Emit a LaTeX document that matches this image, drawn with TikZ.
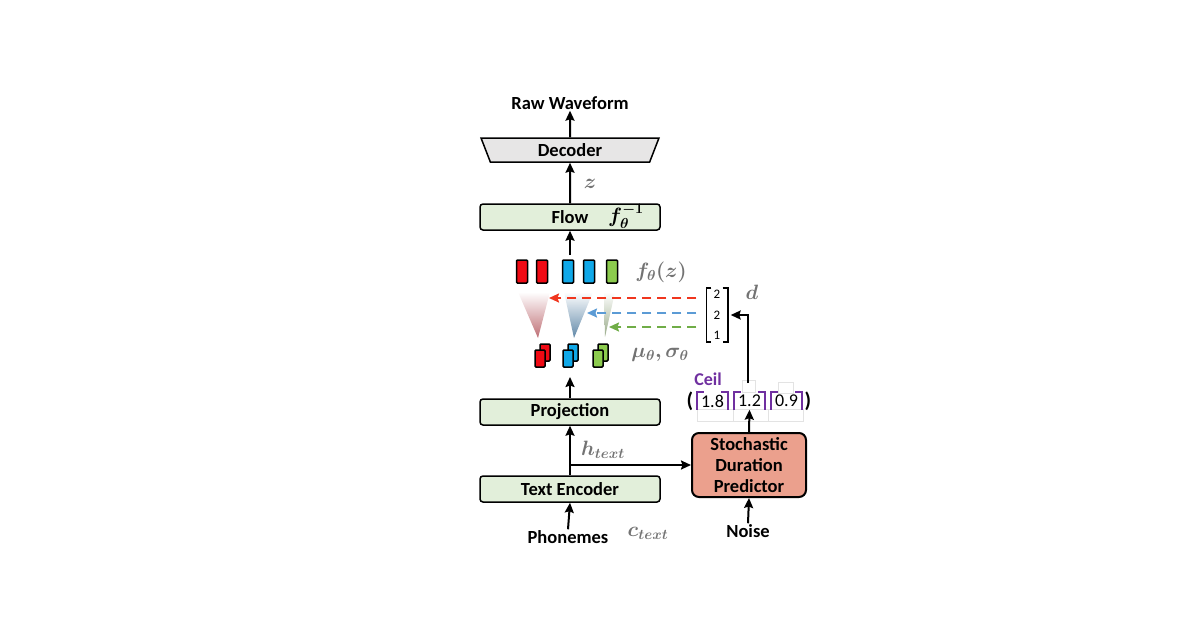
\documentclass[tikz,border=0pt]{standalone}
\usepackage[no-math]{fontspec}
\setmainfont{Carlito}
\usepackage{amsmath,bm}
\usetikzlibrary{arrows.meta,positioning,shapes.geometric,calc}
\definecolor{BoxGreen}{HTML}{E2EFDA}
\definecolor{DecGray}{HTML}{E7E6E6}
\definecolor{SdpRed}{HTML}{EBA08D}
\definecolor{TokRed}{HTML}{F00A14}
\definecolor{TokBlue}{HTML}{10A8E8}
\definecolor{TokGreen}{HTML}{8CCB4E}
\definecolor{LabGray}{HTML}{737373}
\definecolor{CeilPurple}{HTML}{7030A0}
\definecolor{DashRed}{HTML}{F0361E}
\definecolor{DashBlue}{HTML}{5B9BD5}
\definecolor{DashGreen}{HTML}{70AD47}
\definecolor{TriRed}{HTML}{BE6E74}
\definecolor{TriBlue}{HTML}{6088A8}
\definecolor{TriGreen}{HTML}{98AA88}
\begin{document}
\begin{tikzpicture}[x=1pt,y=-1pt,
  box/.style={draw,line width=1.5pt,rounded corners=3pt,fill=BoxGreen,minimum width=180pt,minimum height=26pt,inner sep=0pt,font=\bfseries\fontsize{18.5}{20}\selectfont},
  txt/.style={font=\bfseries\fontsize{18.5}{20}\selectfont,inner sep=1pt},
  arr/.style={line width=2pt,-{Stealth[length=10pt,width=9pt,inset=1.5pt]}},
  dsh/.style={line width=2pt,dash pattern=on 9pt off 6pt,-{Stealth[length=10pt,width=9pt,inset=1.5pt]}},
  lab/.style={text=LabGray,font=\fontsize{20}{24}\selectfont,inner sep=0pt},
  tok/.style={draw,line width=1.5pt,rounded corners=1pt,minimum width=11pt,minimum height=23pt,inner sep=0pt},
  tokp/.style={draw,line width=1.5pt,rounded corners=1pt,minimum width=10pt,minimum height=17pt,inner sep=0pt},
  num/.style={minimum width=31pt,minimum height=17pt,inner sep=0pt,font=\fontsize{18}{20}\selectfont},
  ceilbr/.style={CeilPurple,line width=2.2pt},
  faint/.style={draw=gray!22,line width=0.6pt}]
  \useasboundingbox (0,0) rectangle (1200,630);
  % main column
  \node[txt] (wave) at (570,103) {Raw Waveform};
  \node[trapezium,draw,fill=DecGray,line width=1.5pt,trapezium stretches=true,shape border rotate=180,
        trapezium angle=74,minimum width=178pt,minimum height=24pt,inner sep=0pt,
        font=\bfseries\fontsize{18.5}{20}\selectfont] (dec) at (570,150) {Decoder};
  \node[box] (flow) at (570,217) {Flow};
  \node[inner sep=0pt,font=\fontsize{20}{24}\selectfont] (finv) at (626,216) {$\bm{f_\theta^{-1}}$};
  \node[box] (proj) at (570,412) {Projection};
  \node[box] (enc) at (570,489) {Text Encoder};
  \node[txt] (phon) at (568,537) {Phonemes};
  \node[draw,line width=2pt,rounded corners=7pt,fill=SdpRed,minimum width=114pt,minimum height=64pt,
        align=center,inner sep=0pt,font=\bfseries\fontsize{18.5}{21}\selectfont] (sdp) at (749,465)
        {Stochastic\\Duration\\Predictor};
  \node[txt] (noise) at (748,531) {Noise};
  % latent tokens
  \foreach \x/\c [count=\i] in {522/TokRed,542/TokRed,568/TokBlue,589/TokBlue,612/TokGreen}
    \node[tok,fill=\c] (fz\i) at (\x,271.5) {};
  \foreach \x/\c [count=\i] in {540/TokRed,568/TokBlue,598/TokGreen} {
    \node[tokp,fill=\c] (mb\i) at (\x+5,352.5) {};
    \node[tokp,fill=\c] (mf\i) at (\x,358.5) {};
  }
  \shade[top color=white,bottom color=TriRed] (518,292) -- (550,292) -- (538,338) -- cycle;
  \shade[top color=white,bottom color=TriBlue] (564,292) -- (593,292) -- (574,338) -- cycle;
  \shade[top color=white,bottom color=TriGreen] (604,292) -- (615,292) -- (605,337) -- cycle;
  % labels
  \node[lab] (zlab) at (590,184) {$\bm{z}$};
  \node[lab] (fzlab) at (661,272) {$\bm{f_\theta(z)}$};
  \node[lab] (mulab) at (660,355) {$\bm{\mu_\theta,\sigma_\theta}$};
  \node[lab] (dlab) at (752,292) {$\bm{d}$};
  \node[lab] (hlab) at (603,450) {$\bm{h_{text}}$};
  \node[lab] (clab) at (648,533) {$\bm{c_{text}}$};
  % duration vector
  \node[align=center,inner sep=0pt,minimum width=21pt,minimum height=54pt,
        font=\fontsize{13}{20.5}\selectfont] (dvec) at (717,315) {2\\2\\1};
  \draw[line width=1.6pt] ([xshift=5pt]dvec.north west) -- (dvec.north west) -- (dvec.south west) -- ([xshift=5pt]dvec.south west);
  \draw[line width=1.6pt] ([xshift=-5pt]dvec.north east) -- (dvec.north east) -- (dvec.south east) -- ([xshift=-5pt]dvec.south east);
  % ceil
  \draw[faint] (697,409) rectangle (733,421) (733,409) rectangle (768,421) (768,409) rectangle (803,421);
  \draw[faint] (742,380) rectangle (755,392) (778,382) rectangle (793,393);
  \node[num] (n18) at (712.5,401) {1.8};
  \node[num] (n12) at (749.5,401) {1.2};
  \node[num] (n09) at (786.5,401) {0.9};
  \foreach \n in {n18,n12,n09} {
    \draw[ceilbr] (\n.south west) -- (\n.north west) -- ++(7,0);
    \draw[ceilbr] (\n.south east) -- (\n.north east) -- ++(-7,0);
  }
  \node[inner sep=0pt,font=\bfseries\fontsize{21}{22}\selectfont] (lpar) at (690,401) {(};
  \node[inner sep=0pt,font=\bfseries\fontsize{21}{22}\selectfont] (rpar) at (808,401) {)};
  \node[inner sep=0pt,text=CeilPurple,font=\bfseries\fontsize{18}{20}\selectfont] (ceil) at (708,379) {Ceil};
  % connectors
  \coordinate (zrow) at (570,255);
  \coordinate (murow) at (570,377);
  \coordinate (split) at (570,465);
  \coordinate (ceiltop) at (748,383);
  \coordinate (tipr) at (549,298);
  \coordinate (tipb) at (587,313);
  \coordinate (tipg) at (609,327);
  \draw[arr] (dec.north) -- (wave.south);
  \draw[arr] (flow.north) -- (dec.south);
  \draw[arr] (zrow) -- (flow.south);
  \draw[arr] (proj.north) -- (murow);
  \draw[arr] (enc.north) -- (proj.south);
  \draw[arr] (phon.north) -- (enc.south);
  \draw[arr] (split) -- (sdp.west);
  \draw[arr] (noise.north) -- (sdp.south);
  \draw[arr] (sdp.north) -- (n12.south);
  \draw[arr] (ceiltop) |- ([xshift=3pt]dvec.east);
  \draw[dsh,DashRed] ($(dvec.west |- tipr)+(-10,0)$) -- (tipr);
  \draw[dsh,DashBlue] ($(dvec.west |- tipb)+(-10,0)$) -- (tipb);
  \draw[dsh,DashGreen] ($(dvec.west |- tipg)+(-10,0)$) -- (tipg);
\end{tikzpicture}
\end{document}
